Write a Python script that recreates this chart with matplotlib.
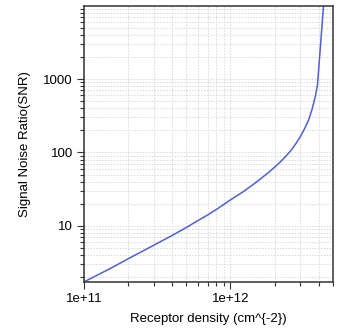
import numpy as np
import matplotlib
matplotlib.use("Agg")
import matplotlib.pyplot as plt
from matplotlib.ticker import LogLocator, FuncFormatter, NullFormatter

plt.rcParams['font.family'] = ['Liberation Sans', 'DejaVu Sans']

# receptor density (cm^-2) and the resulting signal-to-noise ratio
density = [0.10e12, 0.15e12, 0.20e12, 0.30e12, 0.40e12, 0.50e12, 0.60e12,
           0.70e12, 0.80e12, 0.90e12, 1.00e12, 1.20e12, 1.40e12, 1.60e12,
           1.80e12, 2.00e12, 2.20e12, 2.40e12, 2.60e12, 2.80e12, 3.00e12,
           3.20e12, 3.40e12, 3.60e12, 3.80e12, 3.92e12, 4.31e12]
snr = [1.72, 2.6, 3.55, 5.45, 7.4, 9.5, 11.8,
       14.1, 16.7, 19.6, 22.6, 28.5, 35.5, 43.5,
       52.5, 63, 75, 90, 108, 133, 165,
       210, 272, 385, 590, 830, 9900]

fig = plt.figure(figsize=(3.37, 3.29), dpi=100)
ax = fig.add_axes([0.249, 0.143, 0.739, 0.839])

ax.plot(density, snr, color='#4f5fd6', lw=1.1)

ax.set_xscale('log')
ax.set_yscale('log')
ax.set_xlim(1e11, 5e12)
ax.set_ylim(min(snr), max(snr))

ax.xaxis.set_major_locator(LogLocator(base=10))
ax.xaxis.set_minor_locator(LogLocator(base=10, subs=np.arange(2, 10)))
ax.yaxis.set_major_locator(LogLocator(base=10))
ax.yaxis.set_minor_locator(LogLocator(base=10, subs=np.arange(2, 10)))
ax.xaxis.set_major_formatter(FuncFormatter(lambda v, p: f'{v:.0e}'))
ax.yaxis.set_major_formatter(FuncFormatter(lambda v, p: f'{v:g}'))
ax.xaxis.set_minor_formatter(NullFormatter())
ax.yaxis.set_minor_formatter(NullFormatter())

ax.grid(True, which='both', color='#dadada', ls=(0, (1.5, 1.5)), lw=0.7)

for s in ax.spines.values():
    s.set_color('#333333')
    s.set_linewidth(1.1)

ax.tick_params(which='major', length=5, width=0.8, color='#333333',
               labelsize=9.5, pad=3)
ax.tick_params(which='minor', length=3, width=0.8, color='#333333')

ax.set_xlabel('Receptor density (cm^{-2})', fontsize=9.5, labelpad=6)
ax.set_ylabel('Signal Noise Ratio(SNR)', fontsize=9.5, labelpad=9)

fig.savefig('out.png', dpi=100)
